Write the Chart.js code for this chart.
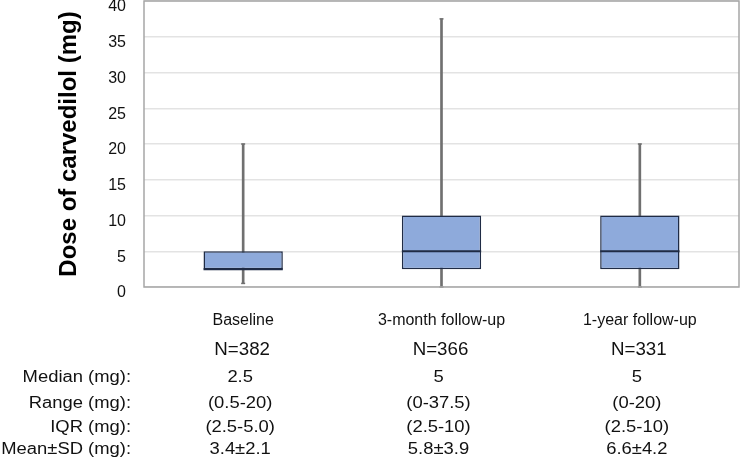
<!DOCTYPE html>
<html>
<head>
<meta charset="utf-8">
<script src="https://cdn.jsdelivr.net/npm/chart.js@4.4.1/dist/chart.umd.min.js"></script>
<style>
	html, body { margin: 0; padding: 0; background: #fff; }
	#wrap { width: 740px; height: 460px; }
</style>
</head>
<body>
<div id="wrap"><canvas id="dose-chart"></canvas></div>
<script>
// box plot values (mg)
const groups = ["Baseline", "3-month follow-up", "1-year follow-up"];
const mins = [0.5, 0, 0];
const q1s = [2.5, 2.5, 2.5];
const medians = [2.5, 5, 5];
const q3s = [5, 10, 10];
const maxs = [20, 37.5, 20];
const y_ticks = [0, 5, 10, 15, 20, 25, 30, 35, 40];

// summary table under the chart
const n_labels = ["N=382", "N=366", "N=331"];
const row_names = ["Median (mg):", "Range (mg):", "IQR (mg):", "Mean\u00b1SD (mg):"];
const median_txt = ["2.5", "5", "5"];
const range_txt = ["(0.5-20)", "(0-37.5)", "(0-20)"];
const iqr_txt = ["(2.5-5.0)", "(2.5-10)", "(2.5-10)"];
const meansd_txt = ["3.4\u00b12.1", "5.8\u00b13.9", "6.6\u00b14.2"];

const font_family = "'Liberation Sans', Arial, sans-serif";
const box_color = "#8eaadb";
const box_edge = "#1f2b45";
const whisker_color = "#707070";

// table text in the figure is a bit wider than normal Arial
function wide_text(ctx, t, x, y, stretch) {
	ctx.save();
	ctx.translate(x, y);
	ctx.scale(stretch, 1);
	ctx.fillText(t, 0, 0);
	ctx.restore();
}

// median lines, whisker caps, frame and the table
const boxExtras = {
	id: "boxExtras",
	afterDatasetsDraw(chart) {
		const ctx = chart.ctx;
		const x = chart.scales.x;
		const y = chart.scales.y;
		const meta = chart.getDatasetMeta(1);
		ctx.save();
		for (let i = 0; i < groups.length; i++) {
			const bar = meta.data[i];
			const half = bar.width / 2;
			const cx = x.getPixelForValue(i);
			ctx.strokeStyle = box_edge;
			ctx.lineWidth = 2;
			ctx.beginPath();
			ctx.moveTo(cx - half, y.getPixelForValue(medians[i]));
			ctx.lineTo(cx + half, y.getPixelForValue(medians[i]));
			ctx.stroke();
			ctx.strokeStyle = whisker_color;
			ctx.lineWidth = 1.5;
			[mins[i], maxs[i]].forEach(v => {
				const py = y.getPixelForValue(v);
				ctx.beginPath();
				ctx.moveTo(cx - 2, py);
				ctx.lineTo(cx + 2, py);
				ctx.stroke();
			});
		}
		const a = chart.chartArea;
		ctx.strokeStyle = "#a6a6a6";
		ctx.lineWidth = 1.5;
		ctx.strokeRect(a.left, a.top, a.right - a.left, a.bottom - a.top);

		ctx.fillStyle = "#111";
		ctx.textBaseline = "middle";
		ctx.textAlign = "center";
		const rows = [median_txt, range_txt, iqr_txt, meansd_txt];
		const row_y = [378, 404, 428, 450];
		for (let i = 0; i < groups.length; i++) {
			const cx = x.getPixelForValue(i);
			ctx.font = "18px " + font_family;
			wide_text(ctx, n_labels[i], cx - 1, 350, 1.04);
			ctx.font = "16px " + font_family;
			rows.forEach((r, j) => wide_text(ctx, r[i], cx - 3, row_y[j], 1.15));
		}
		ctx.textAlign = "right";
		ctx.font = "16px " + font_family;
		row_names.forEach((t, j) => wide_text(ctx, t, 131, row_y[j], 1.15));
		ctx.restore();
	}
};

const ctx = document.getElementById("dose-chart");
const chart = new Chart(ctx, {
	type: "bar",
	data: {
		labels: groups,
		datasets: [
			{
				label: "whisker",
				data: groups.map((g, i) => [mins[i], maxs[i]]),
				backgroundColor: whisker_color,
				barThickness: 2,
				grouped: false,
				order: 2
			},
			{
				label: "box",
				data: groups.map((g, i) => [q1s[i], q3s[i]]),
				backgroundColor: box_color,
				borderColor: box_edge,
				borderWidth: 1.5,
				borderSkipped: false,
				barPercentage: 0.4,
				categoryPercentage: 1,
				grouped: false,
				order: 1
			}
		]
	},
	options: {
		responsive: true,
		maintainAspectRatio: false,
		animation: false,
		layout: { padding: { top: 1, right: 1, left: 0, bottom: 0 } },
		plugins: {
			legend: { display: false },
			tooltip: { enabled: false }
		},
		scales: {
			x: {
				grid: { display: false, drawTicks: false },
				border: { display: false },
				ticks: {
					color: "#111",
					padding: 24,
					font: { family: font_family, size: 16 }
				},
				afterFit: (scale) => {
					scale.height = 173;
					scale.paddingLeft = 0;
					scale.paddingRight = 0;
				}
			},
			y: {
				min: 0,
				max: 40,
				afterBuildTicks: (scale) => { scale.ticks = y_ticks.map(v => ({value: v})); },
				grid: { color: "#e3e3e3", lineWidth: 1.5, drawTicks: false },
				border: { display: false },
				ticks: {
					color: "#111",
					padding: 18,
					labelOffset: 6,
					font: { family: font_family, size: 16 }
				},
				title: {
					display: true,
					text: "Dose of carvedilol (mg)",
					color: "#000",
					padding: { top: 55, bottom: 0 },
					font: { family: font_family, size: 24, weight: "bold" }
				},
				afterFit: (scale) => {
					scale.width = 144;
					scale.paddingTop = 0;
					scale.paddingBottom = 0;
				}
			}
		}
	},
	plugins: [boxExtras]
});
</script>
</body>
</html>
